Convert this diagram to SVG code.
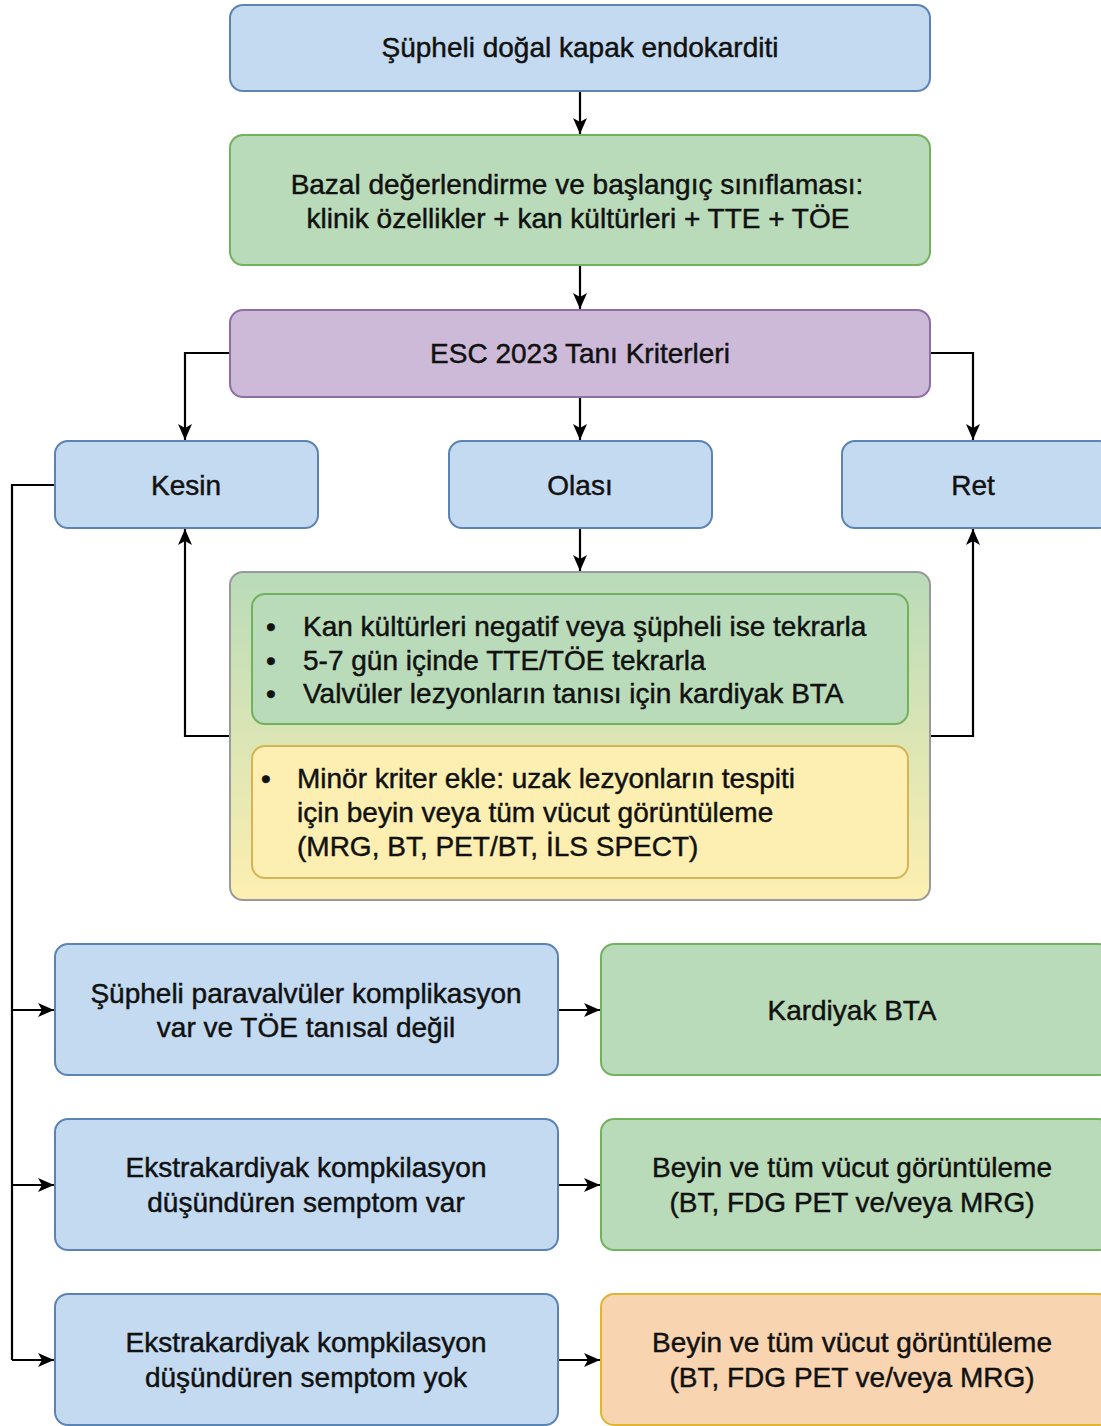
<svg xmlns="http://www.w3.org/2000/svg" width="1101" height="1426" viewBox="0 0 1101 1426">
<style>
text{font-family:"Liberation Sans",Arial,sans-serif;font-size:28px;fill:#111;stroke:#111;stroke-width:0.45px}
.c{text-anchor:middle}
.blue{fill:#c3daf0;stroke:#5b83b4;stroke-width:2}
.green{fill:#b9dbb9;stroke:#72b25e;stroke-width:2}
.purple{fill:#cdb9d8;stroke:#8f6ea6;stroke-width:2}
.yellow{fill:#fdefb1;stroke:#d5b458;stroke-width:2}
.orange{fill:#f9d4b0;stroke:#e0b530;stroke-width:2}
.edge{fill:none;stroke:#000;stroke-width:2.2}
</style>
<defs>
<marker id="arr" markerUnits="userSpaceOnUse" markerWidth="17" markerHeight="14" refX="16" refY="7" orient="auto">
<path d="M0,0 L16,7 L0,14 L4,7 Z" fill="#000"/>
</marker>
<linearGradient id="gy" x1="0" y1="0" x2="0" y2="1">
<stop offset="0" stop-color="#b9dbb9"/>
<stop offset="1" stop-color="#fdefb1"/>
</linearGradient>
</defs>
<g id="connectors">
<path class="edge" d="M580,91 V134" marker-end="url(#arr)"/>
<path class="edge" d="M580,265 V309" marker-end="url(#arr)"/>
<path class="edge" d="M230,353 H185 V440" marker-end="url(#arr)"/>
<path class="edge" d="M580,397 V440" marker-end="url(#arr)"/>
<path class="edge" d="M930,353 H973 V440" marker-end="url(#arr)"/>
<path class="edge" d="M580,528 V571" marker-end="url(#arr)"/>
<path class="edge" d="M230,736 H185 V529" marker-end="url(#arr)"/>
<path class="edge" d="M930,736 H973 V529" marker-end="url(#arr)"/>
<path class="edge" d="M55,485 H12 V1360"/>
<path class="edge" d="M12,1010 H54" marker-end="url(#arr)"/>
<path class="edge" d="M12,1185 H54" marker-end="url(#arr)"/>
<path class="edge" d="M12,1360 H54" marker-end="url(#arr)"/>
<path class="edge" d="M558,1010 H600" marker-end="url(#arr)"/>
<path class="edge" d="M558,1185 H600" marker-end="url(#arr)"/>
<path class="edge" d="M558,1360 H600" marker-end="url(#arr)"/>
</g>
<g id="n-start">
<rect class="blue" x="230" y="5" width="700" height="86" rx="13"/>
<text class="c" x="580" y="57">Şüpheli doğal kapak endokarditi</text>
</g>
<g id="n-bazal">
<rect class="green" x="230" y="135" width="700" height="130" rx="13"/>
<text class="c" x="577" y="194">Bazal değerlendirme ve başlangıç sınıflaması:</text>
<text class="c" x="578" y="228">klinik özellikler + kan kültürleri + TTE + TÖE</text>
</g>
<g id="n-esc">
<rect class="purple" x="230" y="310" width="700" height="87" rx="13"/>
<text class="c" x="580" y="363">ESC 2023 Tanı Kriterleri</text>
</g>
<g id="n-kesin">
<rect class="blue" x="55" y="441" width="263" height="87" rx="13"/>
<text class="c" x="186" y="495">Kesin</text>
</g>
<g id="n-olasi">
<rect class="blue" x="449" y="441" width="263" height="87" rx="13"/>
<text class="c" x="580" y="495">Olası</text>
</g>
<g id="n-ret">
<rect class="blue" x="842" y="441" width="270" height="87" rx="13"/>
<text class="c" x="973" y="495">Ret</text>
</g>
<g id="n-container">
<rect x="230" y="572" width="700" height="328" rx="13" fill="url(#gy)" stroke="#9a9a9a" stroke-width="2"/>
</g>
<g id="n-bullets">
<rect class="green" x="252" y="594" width="656" height="130" rx="13"/>
<text x="266" y="636">•</text><text x="303" y="636">Kan kültürleri negatif veya şüpheli ise tekrarla</text>
<text x="266" y="670">•</text><text x="303" y="670">5-7 gün içinde TTE/TÖE tekrarla</text>
<text x="266" y="703">•</text><text x="303" y="703">Valvüler lezyonların tanısı için kardiyak BTA</text>
</g>
<g id="n-minor">
<rect class="yellow" x="252" y="746" width="656" height="132" rx="13"/>
<text x="261" y="788">•</text><text x="297" y="788">Minör kriter ekle: uzak lezyonların tespiti</text>
<text x="297" y="822">için beyin veya tüm vücut görüntüleme</text>
<text x="297" y="856">(MRG, BT, PET/BT, İLS SPECT)</text>
</g>
<g id="n-para">
<rect class="blue" x="55" y="944" width="503" height="131" rx="13"/>
<text class="c" x="306" y="1003">Şüpheli paravalvüler komplikasyon</text>
<text class="c" x="306" y="1037">var ve TÖE tanısal değil</text>
</g>
<g id="n-bta">
<rect class="green" x="601" y="944" width="510" height="131" rx="13"/>
<text class="c" x="852" y="1020">Kardiyak BTA</text>
</g>
<g id="n-var">
<rect class="blue" x="55" y="1119" width="503" height="131" rx="13"/>
<text class="c" x="306" y="1177">Ekstrakardiyak kompkilasyon</text>
<text class="c" x="306" y="1212">düşündüren semptom var</text>
</g>
<g id="n-img1">
<rect class="green" x="601" y="1119" width="510" height="131" rx="13"/>
<text class="c" x="852" y="1177">Beyin ve tüm vücut görüntüleme</text>
<text class="c" x="852" y="1212">(BT, FDG PET ve/veya MRG)</text>
</g>
<g id="n-yok">
<rect class="blue" x="55" y="1294" width="503" height="131" rx="13"/>
<text class="c" x="306" y="1352">Ekstrakardiyak kompkilasyon</text>
<text class="c" x="306" y="1387">düşündüren semptom yok</text>
</g>
<g id="n-img2">
<rect class="orange" x="601" y="1294" width="510" height="131" rx="13"/>
<text class="c" x="852" y="1352">Beyin ve tüm vücut görüntüleme</text>
<text class="c" x="852" y="1387">(BT, FDG PET ve/veya MRG)</text>
</g>
</svg>
